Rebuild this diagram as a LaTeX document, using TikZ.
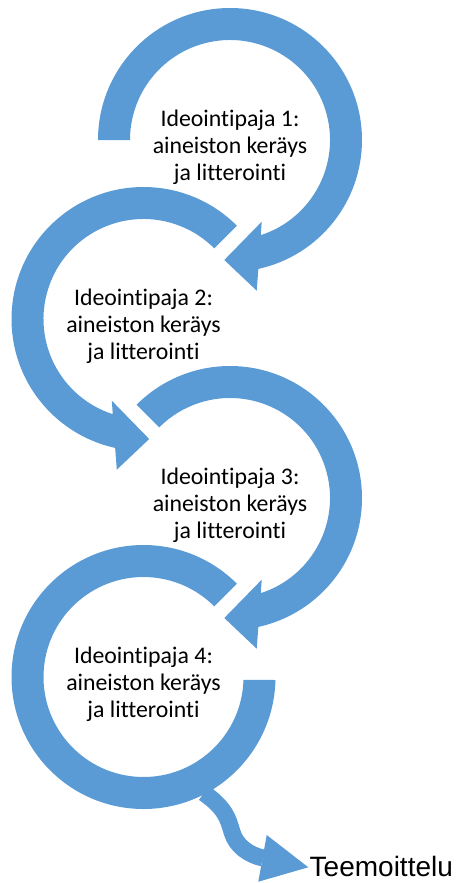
\documentclass[tikz,border=0pt]{standalone}
\usepackage{fontspec}
\setmainfont{Carlito}[RawFeature={-liga;-clig;-dlig}]
\newfontfamily\arialfont{Liberation Sans}
\definecolor{ringblue}{HTML}{5B9BD5}
\begin{document}
\begin{tikzpicture}[x=1pt,y=1pt,
  ring/.style={fill=ringblue},
  circtext/.style={align=center, font=\fontsize{23.8}{27}\selectfont, text=black, inner sep=0pt},
  endtext/.style={font=\arialfont\fontsize{28}{30}\selectfont, text=black, inner sep=0pt, anchor=base west}]
\useasboundingbox (0,0) rectangle (462,-883);
% ring 1
\begin{scope}[shift={(230,-140)}]
\fill[ring] (180:132) arc[start angle=180,end angle=-77.6,radius=132] -- (26.7,-150.7) -- (-5.7,-120) -- (31.7,-81.7) -- (-72.1:100) arc[start angle=-72.1,end angle=180,radius=100] -- cycle;
\end{scope}
% ring 2
\begin{scope}[shift={(143.5,-319)},xscale=-1]
\fill[ring] (135:132) arc[start angle=135,end angle=-77.6,radius=132] -- (26.7,-150.7) -- (-5.7,-120) -- (31.7,-81.7) -- (-72.1:100) arc[start angle=-72.1,end angle=135,radius=100] -- cycle;
\end{scope}
% ring 3
\begin{scope}[shift={(230,-498)}]
\fill[ring] (135:132) arc[start angle=135,end angle=-77.6,radius=132] -- (26.7,-150.7) -- (-5.7,-120) -- (31.7,-81.7) -- (-72.1:100) arc[start angle=-72.1,end angle=135,radius=100] -- cycle;
\end{scope}
% ring 4
\begin{scope}[shift={(143.5,-677)},xscale=-1]
\fill[ring] (135:132) arc[start angle=135,end angle=-178.7,radius=132] -- (-178.3:100) arc[start angle=-178.3,end angle=135,radius=100] -- cycle;
\end{scope}
% texts
\node[circtext] (t1) at (230,-147) {Ideointipaja 1:\\aineiston keräys\\ja litterointi};
\node[circtext] (t2) at (143.5,-326) {Ideointipaja 2:\\aineiston keräys\\ja litterointi};
\node[circtext] (t3) at (230,-505) {Ideointipaja 3:\\aineiston keräys\\ja litterointi};
\node[circtext] (t4) at (143.5,-684) {Ideointipaja 4:\\aineiston keräys\\ja litterointi};
\node[endtext] (end) at (309.5,-876.5) {Teemoittelu};
% exit arrow
\coordinate (exitstart) at (204,-793);
\coordinate (exitbase) at (263,-858);
\coordinate (headup) at (266.7,-835);
\coordinate (headtip) at (308.3,-867.3);
\coordinate (headlow) at (258.3,-881.7);
\draw[line width=17pt, ringblue] (exitstart) .. controls (225,-808) and (228,-818) .. (232,-832) .. controls (236,-846) and (249,-855) .. (exitbase);
\fill[ringblue] (headup) -- (headtip) -- (headlow) -- cycle;
\end{tikzpicture}
\end{document}
